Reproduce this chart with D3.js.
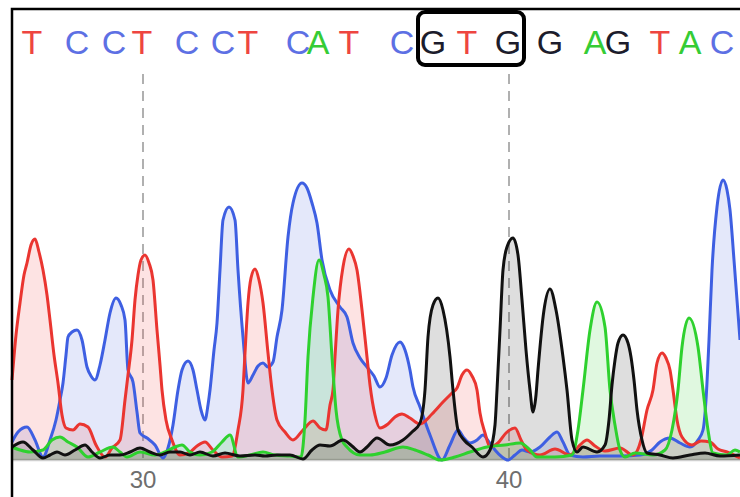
<!DOCTYPE html>
<html>
<head>
<meta charset="utf-8">
<script src="https://cdn.jsdelivr.net/npm/d3@7"></script>
<style>
  body { margin: 0; background: #fff; }
  svg { display: block; }
</style>
</head>
<body>
<svg id="chart" width="740" height="497"></svg>
<script>
// called bases and the scan position of each call
var bases = ["T","C","C","T","C","C","T","C","A","T","C","G","T","G","G","A","G","T","A","C"];
var basePos = [20, 65, 102, 130, 175, 211, 236, 286, 306, 337, 390, 421, 455, 496, 538, 583, 606, 648, 678, 710];
var firstBase = 27;
var tickBases = [30, 40];
var boxBases = [38, 40];

// trace samples: [scan, signal]
var redTrace = [[0,80],[4,125],[8,157],[12,185],[15,197],[19,215],[23,221],[27,208],[31,190],[35,165],[38,140],[42,105],[46,77],[50,45],[54,32],[61,30],[68,36],[76,33],[84,15],[93,3],[100,12],[108,20],[113,60],[116,85],[120,120],[123,160],[126,185],[129,200],[133,205],[137,197],[141,180],[145,130],[148,95],[150,70],[154,40],[160,20],[168,5],[178,8],[185,14],[193,18],[201,10],[210,3],[220,4],[226,30],[231,70],[233,107],[236,157],[239,182],[243,191],[247,180],[251,157],[256,107],[260,70],[265,40],[273,28],[281,20],[291,30],[301,39],[308,32],[314,30],[318,55],[321,70],[323,103],[326,150],[331,193],[337,211],[341,204],[345,190],[350,150],[355,103],[358,75],[363,45],[368,32],[376,36],[383,43],[390,46],[398,42],[408,36],[420,46],[431,58],[440,67],[445,72],[450,85],[455,90],[460,84],[465,70],[468,47],[473,27],[478,13],[486,17],[494,27],[503,32],[509,20],[515,10],[528,5],[543,11],[558,5],[568,15],[575,20],[583,14],[593,9],[608,12],[621,5],[629,20],[635,50],[641,70],[645,97],[650,107],[654,102],[658,90],[661,70],[665,40],[670,23],[680,15],[689,19],[698,18],[706,11],[715,8],[728,2]];

var blueTrace = [[0,18],[6,28],[15,33],[23,20],[31,3],[38,20],[44,40],[48,60],[51,77],[54,105],[56,123],[60,128],[65,130],[70,120],[75,93],[79,84],[83,80],[88,95],[93,120],[98,147],[104,162],[109,155],[113,140],[116,90],[121,78],[125,48],[128,27],[135,22],[143,15],[151,2],[156,12],[161,35],[166,70],[170,90],[176,99],[181,90],[185,70],[189,50],[193,40],[196,55],[198,70],[202,110],[205,137],[208,190],[211,240],[217,253],[223,240],[226,190],[231,123],[236,77],[241,85],[246,94],[251,97],[256,93],[261,98],[265,123],[270,150],[276,223],[281,257],[290,277],[295,272],[300,257],[305,237],[310,200],[318,170],[328,153],[335,143],[341,117],[348,102],[355,93],[362,84],[368,73],[374,82],[380,105],[388,118],[393,110],[398,90],[401,73],[408,53],[418,25],[430,0],[438,15],[446,30],[452,22],[458,17],[465,20],[471,25],[477,18],[483,10],[490,3],[496,0],[503,5],[510,10],[518,8],[528,13],[538,23],[545,28],[551,18],[558,5],[571,3],[588,4],[608,4],[628,5],[640,10],[648,18],[658,22],[668,17],[678,13],[686,20],[691,30],[694,60],[697,120],[700,190],[705,253],[711,280],[715,270],[718,250],[722,200],[725,160],[728,120]];

var greenTrace = [[0,13],[8,10],[18,8],[31,10],[40,20],[48,23],[56,18],[65,13],[76,3],[88,8],[101,13],[108,8],[115,3],[128,8],[143,5],[153,8],[163,13],[170,15],[178,8],[188,5],[200,8],[210,18],[218,25],[226,3],[238,5],[251,8],[263,5],[278,4],[289,3],[293,40],[296,103],[301,163],[307,200],[312,185],[316,163],[320,103],[324,50],[330,20],[335,13],[348,5],[358,5],[373,8],[391,13],[403,10],[416,5],[428,0],[443,3],[458,8],[475,13],[493,15],[508,17],[518,10],[525,3],[543,3],[560,5],[566,30],[571,70],[578,130],[585,158],[593,133],[598,70],[603,35],[608,10],[613,3],[623,7],[641,5],[653,10],[660,30],[666,70],[670,113],[677,142],[686,113],[691,70],[696,30],[701,7],[715,5],[723,10],[728,8]];

var blackTrace = [[0,13],[11,18],[21,10],[31,2],[38,5],[45,8],[53,5],[63,10],[73,15],[80,8],[88,2],[98,5],[108,5],[118,8],[128,12],[138,8],[148,5],[158,8],[168,8],[178,5],[188,8],[201,4],[213,7],[228,4],[243,5],[253,4],[265,5],[278,5],[291,1],[300,10],[308,15],[318,14],[331,20],[340,14],[348,8],[355,13],[365,22],[378,15],[391,20],[400,28],[408,37],[413,70],[416,123],[421,155],[426,162],[431,150],[438,103],[441,70],[446,30],[452,20],[460,13],[471,3],[478,10],[483,35],[485,70],[488,130],[491,190],[495,213],[501,222],[506,205],[510,160],[514,110],[518,70],[521,48],[524,65],[526,90],[532,150],[538,171],[544,150],[551,103],[555,70],[560,20],[565,8],[571,13],[585,8],[593,15],[597,40],[600,75],[603,100],[606,117],[611,125],[616,117],[619,103],[622,80],[625,50],[630,20],[635,7],[648,5],[661,2],[678,5],[693,7],[708,4],[728,5]];

var baseColor = { T: "#ee4540", C: "#5d70e4", A: "#35cc35", G: "#1c1c2c" };

var traces = [
    { name: "C", data: blueTrace,  stroke: "#3e5fe2", fill: "rgba(90,110,225,0.16)" },
    { name: "T", data: redTrace,   stroke: "#ea3530", fill: "rgba(240,80,80,0.16)" },
    { name: "A", data: greenTrace, stroke: "#2ed12e", fill: "rgba(60,210,60,0.16)" },
    { name: "G", data: blackTrace, stroke: "#111111", fill: "rgba(0,0,0,0.13)" }
];

var svg = d3.select("#chart");

var x = d3.scaleLinear().domain([0, 728]).range([12, 740]);
var y = d3.scaleLinear().domain([0, 450]).range([460, 10]);

function posOf(baseNum) { return basePos[baseNum - firstBase]; }

// dashed guides at the numbered bases
svg.append("g")
    .selectAll("line")
    .data(tickBases)
    .enter()
    .append("line")
    .attr("x1", d => x(posOf(d)) + 1)
    .attr("x2", d => x(posOf(d)) + 1)
    .attr("y1", 74)
    .attr("y2", y(0))
    .attr("stroke", "#b0b0b0")
    .attr("stroke-width", 2)
    .attr("stroke-dasharray", "10,7");

// baseline
svg.append("line")
    .attr("x1", x(0)).attr("x2", x(728))
    .attr("y1", y(0)).attr("y2", y(0))
    .attr("stroke", "#cfcfcf")
    .attr("stroke-width", 2.5);

var area = d3.area()
    .x(d => x(d[0]))
    .y0(y(0))
    .y1(d => y(d[1]))
    .curve(d3.curveMonotoneX);

var line = d3.line()
    .x(d => x(d[0]))
    .y(d => y(d[1]))
    .curve(d3.curveMonotoneX);

svg.append("g")
    .selectAll("path")
    .data(traces)
    .enter()
    .append("path")
    .attr("d", d => area(d.data))
    .attr("fill", d => d.fill);

svg.append("g")
    .selectAll("path")
    .data(traces)
    .enter()
    .append("path")
    .attr("d", d => line(d.data))
    .attr("fill", "none")
    .attr("stroke", d => d.stroke)
    .attr("stroke-width", 3)
    .attr("stroke-linejoin", "round");

// base calls
svg.append("g")
    .selectAll("text")
    .data(bases)
    .enter()
    .append("text")
    .attr("x", (d, i) => x(basePos[i]))
    .attr("y", 54)
    .attr("text-anchor", "middle")
    .attr("font-family", "Liberation Sans, Arial, sans-serif")
    .attr("font-size", 34)
    .attr("fill", d => baseColor[d])
    .text(d => d);

// base numbers
svg.append("g")
    .selectAll("text")
    .data(tickBases)
    .enter()
    .append("text")
    .attr("x", d => x(posOf(d)) + 1)
    .attr("y", 488)
    .attr("text-anchor", "middle")
    .attr("font-family", "Liberation Sans, Arial, sans-serif")
    .attr("font-size", 24)
    .attr("fill", "#6e6e6e")
    .text(d => d);

// highlight box
var bx0 = x(posOf(boxBases[0])) - 15;
var bx1 = x(posOf(boxBases[1])) + 16;
svg.append("rect")
    .attr("x", bx0)
    .attr("y", 12)
    .attr("width", bx1 - bx0)
    .attr("height", 53)
    .attr("rx", 7)
    .attr("fill", "none")
    .attr("stroke", "#000")
    .attr("stroke-width", 4);

// outer frame
svg.append("rect")
    .attr("x", 12)
    .attr("y", 9)
    .attr("width", 760)
    .attr("height", 520)
    .attr("fill", "none")
    .attr("stroke", "#000")
    .attr("stroke-width", 2.5);
</script>
</body>
</html>
